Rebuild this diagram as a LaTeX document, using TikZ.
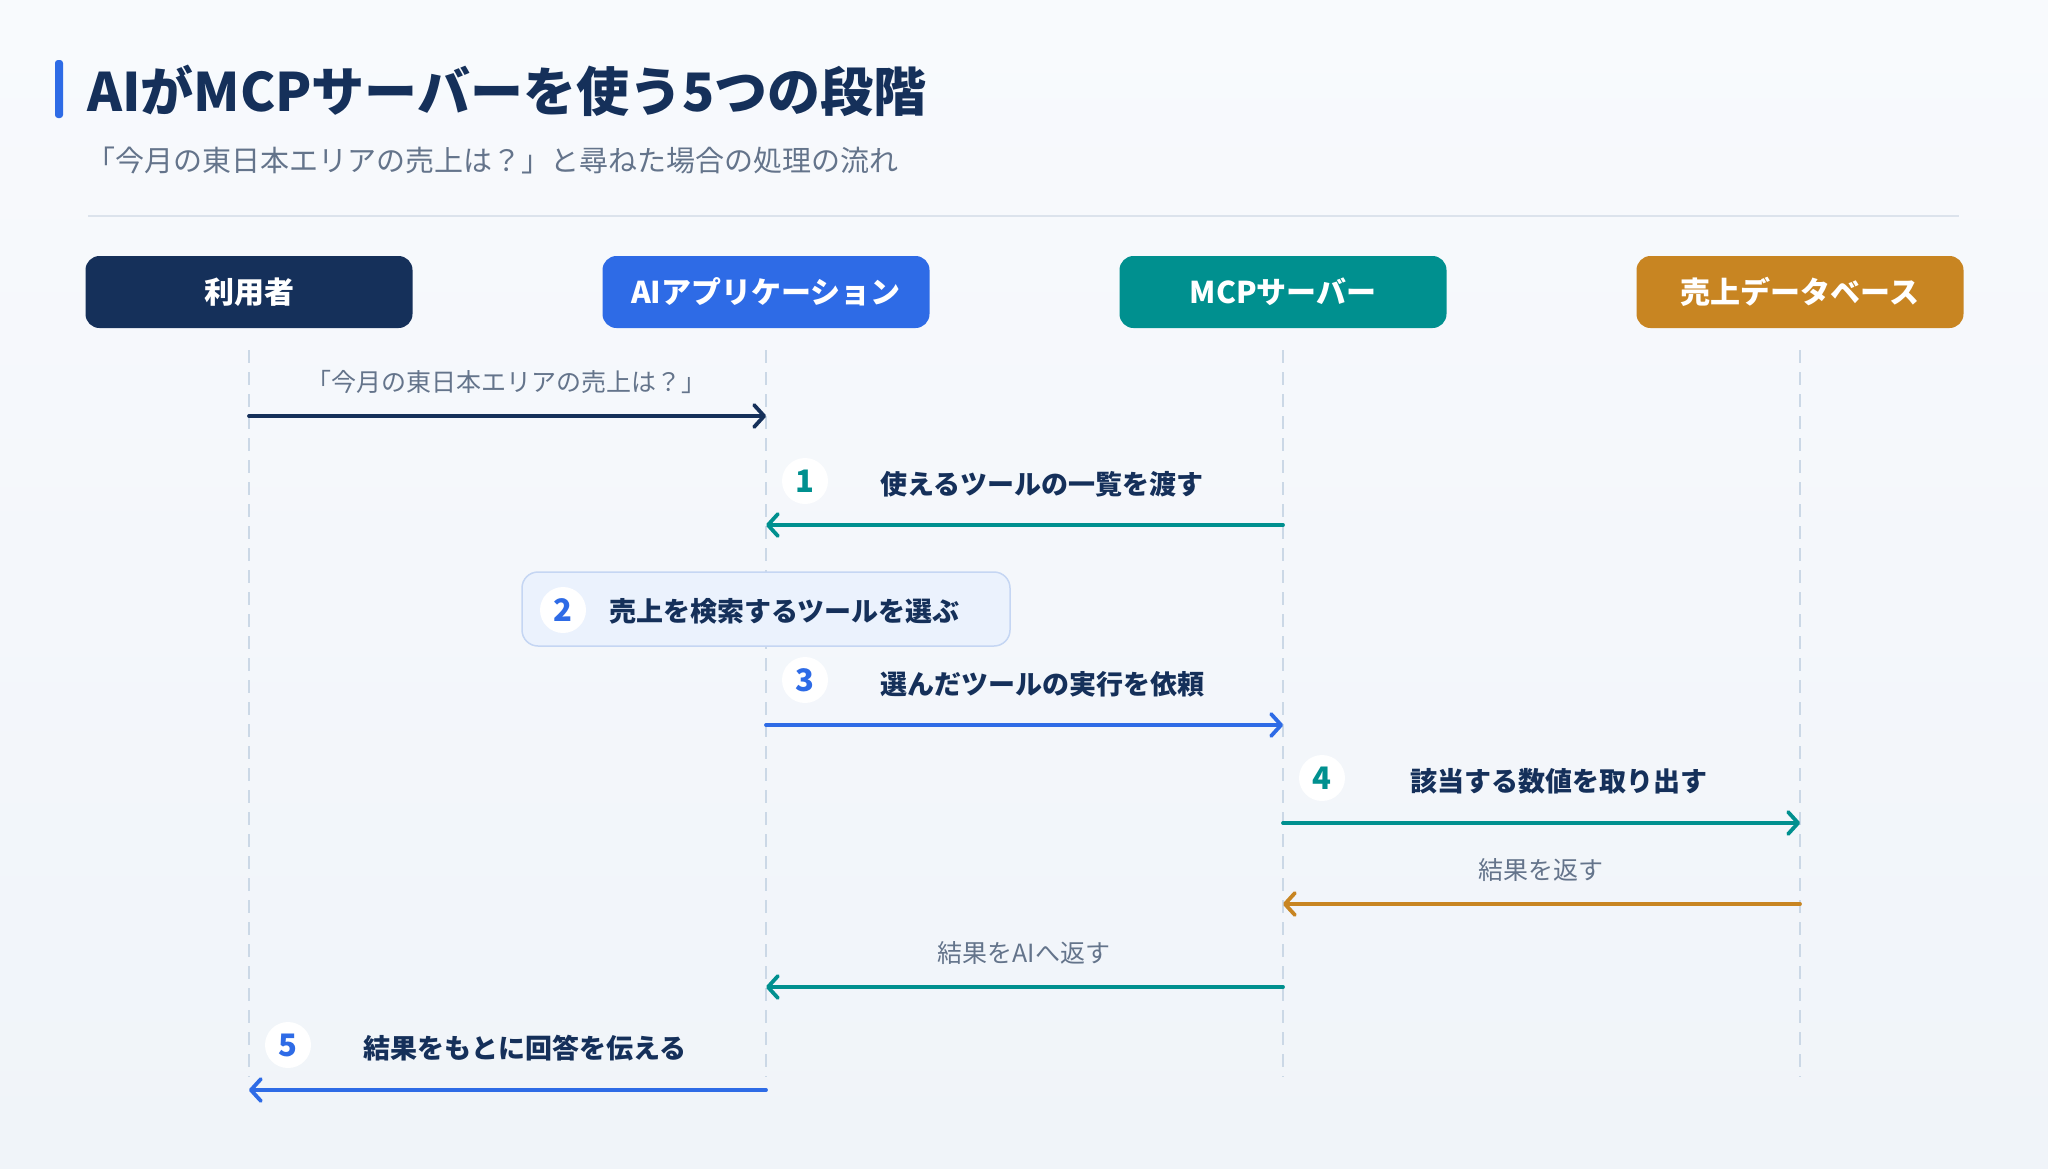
\documentclass[tikz,border=0pt]{standalone}
\usepackage{fontspec}
\setmainfont{Noto Sans CJK JP}
\usetikzlibrary{arrows.meta,calc}
\definecolor{navy}{HTML}{15305A}
\definecolor{bluec}{HTML}{2E6BE6}
\definecolor{tealc}{HTML}{00908F}
\definecolor{ochre}{HTML}{C88522}
\definecolor{greytxt}{HTML}{64748B}
\definecolor{lifec}{HTML}{CBD8E6}
\definecolor{sepc}{HTML}{DCE3EC}
\definecolor{bgtop}{HTML}{F8FAFD}
\definecolor{bgbot}{HTML}{F0F4F9}
\definecolor{notefill}{HTML}{EBF2FD}
\definecolor{notedraw}{HTML}{C5D6F3}
\tikzset{
  actor/.style={rounded corners=14pt, minimum width=327pt, minimum height=72pt, inner sep=0pt,
    text=white, font=\fontsize{30}{36}\selectfont\bfseries},
  life/.style={lifec, line width=2pt, dash pattern=on 13pt off 9pt},
  msg/.style={line width=3.8pt, line cap=round, -{Straight Barb[length=10pt,width=22pt,round]}},
  badge/.style={circle, fill=white, minimum size=46pt, inner sep=0pt, font=\fontsize{31}{36}\selectfont\bfseries},
  steplabel/.style={inner sep=0pt, text=navy, font=\fontsize{27}{32}\selectfont\bfseries},
  notetext/.style={inner sep=0pt, text=greytxt, font=\fontsize{25}{30}\selectfont},
}
\begin{document}
\begin{tikzpicture}[x=1pt,y=-1pt]
\useasboundingbox (0,0) rectangle (2048,1168);
\shade[top color=bgtop, bottom color=bgbot] (0,0) rectangle (2048,1168);
% title
\fill[bluec, rounded corners=3pt] (55,60) rectangle (63,118);
\node[anchor=west, inner sep=0pt, text=navy, font=\fontsize{53}{60}\selectfont\bfseries] (title) at (87,91) {AIがMCPサーバーを使う5つの段階};
\node[anchor=west, inner sep=0pt, text=greytxt, font=\fontsize{29}{34}\selectfont] (subtitle) at (86,160) {「今月の東日本エリアの売上は？」と尋ねた場合の処理の流れ};
\coordinate (sepL) at (88,216);
\coordinate (sepR) at (1959,216);
\draw[sepc, line width=2pt] (sepL) -- (sepR);
% lifelines
\foreach \n/\x in {u/249, a/766, s/1283, d/1800}{
  \coordinate (\n top) at (\x,350);
  \coordinate (\n bot) at (\x,1077);
  \draw[life] (\n top) -- (\n bot);
}
% actors
\node[actor, fill=navy] (user) at (249,292) {利用者};
\node[actor, fill=bluec] (app) at (766,292) {AIアプリケーション};
\node[actor, fill=tealc] (mcp) at (1283,292) {MCPサーバー};
\node[actor, fill=ochre] (db) at (1800,292) {売上データベース};
% step 2 box
\node[draw=notedraw, fill=notefill, line width=1.5pt, rounded corners=16pt, minimum width=488pt, minimum height=74pt] (step2box) at (766,609) {};
% message endpoints
\coordinate (m0s) at (249,416);  \coordinate (m0e) at (766,416);
\coordinate (m1s) at (1283,525); \coordinate (m1e) at (766,525);
\coordinate (m3s) at (766,725);  \coordinate (m3e) at (1283,725);
\coordinate (m4s) at (1283,823); \coordinate (m4e) at (1800,823);
\coordinate (m5s) at (1800,904); \coordinate (m5e) at (1283,904);
\coordinate (m6s) at (1283,987); \coordinate (m6e) at (766,987);
\coordinate (m7s) at (766,1090); \coordinate (m7e) at (249,1090);
\draw[msg, navy] (m0s) -- (m0e);
\draw[msg, tealc] (m1s) -- (m1e);
\draw[msg, bluec] (m3s) -- (m3e);
\draw[msg, tealc] (m4s) -- (m4e);
\draw[msg, ochre] (m5s) -- (m5e);
\draw[msg, tealc] (m6s) -- (m6e);
\draw[msg, bluec] (m7s) -- (m7e);
% notes
\node[notetext] (n0) at (506,382) {「今月の東日本エリアの売上は？」};
\node[notetext] (n5) at (1541,870) {結果を返す};
\node[notetext] (n6) at (1024,953) {結果をAIへ返す};
% badges
\node[badge, text=tealc] (b1) at (805,481) {1};
\node[badge, text=bluec] (b2) at (563,610) {2};
\node[badge, text=bluec] (b3) at (805,680) {3};
\node[badge, text=tealc] (b4) at (1322,778) {4};
\node[badge, text=bluec] (b5) at (288,1045) {5};
% step labels
\node[steplabel] (l1) at (1042,484) {使えるツールの一覧を渡す};
\node[steplabel, anchor=west] (l2) at (609,611) {売上を検索するツールを選ぶ};
\node[steplabel] (l3) at (1042,684) {選んだツールの実行を依頼};
\node[steplabel] (l4) at (1559,781) {該当する数値を取り出す};
\node[steplabel] (l5) at (525,1048) {結果をもとに回答を伝える};
\end{tikzpicture}
\end{document}
